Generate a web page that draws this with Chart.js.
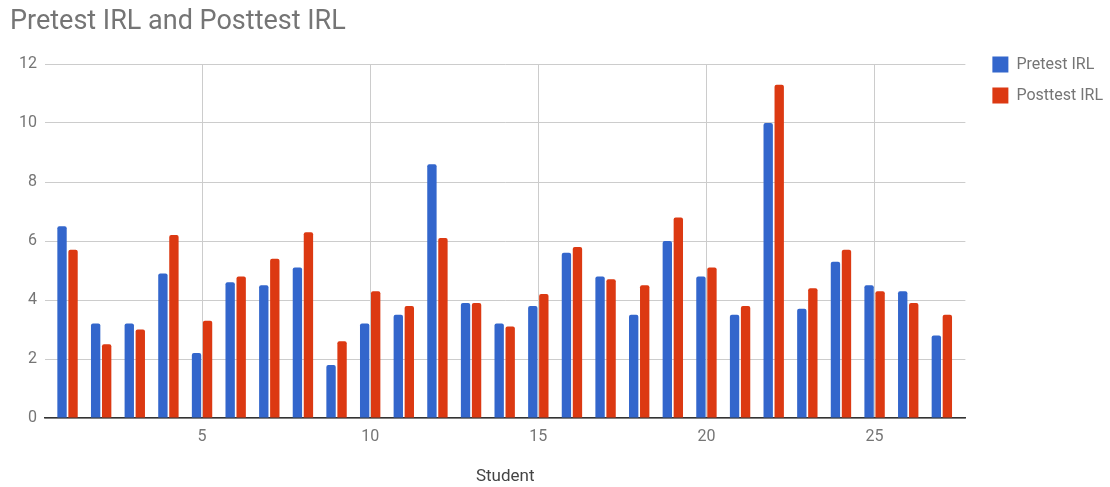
<!DOCTYPE html>
<html>
<head>
<meta charset="utf-8">
<title>Pretest IRL and Posttest IRL</title>
<script src="https://cdn.jsdelivr.net/npm/chart.js"></script>
<style>
  body { margin: 0; background: #fff; }
  #wrap { width: 1110px; height: 487px; }
</style>
</head>
<body>
<div id="wrap"><canvas id="myChart"></canvas></div>
<script>
const students = [1, 2, 3, 4, 5, 6, 7, 8, 9, 10, 11, 12, 13, 14, 15, 16, 17, 18, 19, 20, 21, 22, 23, 24, 25, 26, 27];
const pretest = [6.5, 3.2, 3.2, 4.9, 2.2, 4.6, 4.5, 5.1, 1.8, 3.2, 3.5, 8.6, 3.9, 3.2, 3.8, 5.6, 4.8, 3.5, 6.0, 4.8, 3.5, 10.0, 3.7, 5.3, 4.5, 4.3, 2.8];
const posttest = [5.7, 2.5, 3.0, 6.2, 3.3, 4.8, 5.4, 6.3, 2.6, 4.3, 3.8, 6.1, 3.9, 3.1, 4.2, 5.8, 4.7, 4.5, 6.8, 5.1, 3.8, 11.3, 4.4, 5.7, 4.3, 3.9, 3.5];
const yTicks = [0, 2, 4, 6, 8, 10, 12];
const xTicks = [5, 10, 15, 20, 25];

const font = 'Roboto';
const grey = '#757575';

const ctx = document.getElementById('myChart').getContext('2d');
const myChart = new Chart(ctx, {
    type: 'bar',
    data: {
        datasets: [{
            label: 'Pretest IRL',
            data: students.map((s, i) => ({ x: s, y: pretest[i] })),
            backgroundColor: '#3366cc',
            borderWidth: 0,
            borderRadius: 2,
            categoryPercentage: 0.655,
            barPercentage: 0.85
        }, {
            label: 'Posttest IRL',
            data: students.map((s, i) => ({ x: s, y: posttest[i] })),
            backgroundColor: '#dc3912',
            borderWidth: 0,
            borderRadius: 2,
            categoryPercentage: 0.655,
            barPercentage: 0.85
        }]
    },
    options: {
        responsive: true,
        maintainAspectRatio: false,
        animation: false,
        layout: { padding: { left: 10, right: -3, top: 0, bottom: 0 } },
        plugins: {
            title: {
                display: true,
                text: 'Pretest IRL and Posttest IRL',
                align: 'start',
                color: grey,
                font: { family: font, size: 27, weight: 'normal' },
                padding: { top: 6.5, bottom: 25.1 }
            },
            legend: {
                position: 'right',
                align: 'start',
                fullSize: true,
                // empty title only pushes the entries down to the plot top
                title: { display: true, text: '', font: { size: 10 }, padding: { top: 29.5, bottom: 0 } },
                labels: {
                    boxWidth: 16,
                    boxHeight: 16,
                    padding: 15,
                    color: grey,
                    font: { family: font, size: 16 }
                }
            },
            tooltip: { enabled: false }
        },
        scales: {
            x: {
                type: 'linear',
                min: 0.33,
                max: 27.7,
                offset: false,
                grid: { offset: false, color: '#cccccc', drawTicks: false },
                border: { display: true, color: '#333', width: 1.5 },
                afterBuildTicks: scale => { scale.ticks = xTicks.map(v => ({ value: v })); },
                ticks: {
                    padding: 9,
                    color: grey,
                    font: { family: font, size: 16 }
                },
                title: {
                    display: true,
                    text: 'Student',
                    color: '#444',
                    font: { family: font, size: 17 },
                    padding: { top: 11.4, bottom: 0 }
                }
            },
            y: {
                min: 0,
                max: 12,
                grid: { color: '#cccccc', drawTicks: false },
                border: { display: false },
                afterBuildTicks: scale => { scale.ticks = yTicks.map(v => ({ value: v })); },
                afterFit: scale => { scale.width = 35; },
                ticks: {
                    padding: 8,
                    color: grey,
                    font: { family: font, size: 16 }
                }
            },
            // empty spacer between the plot and the legend
            gap: {
                axis: 'y',
                position: 'right',
                grid: { display: false },
                border: { display: false },
                ticks: { display: false },
                afterFit: scale => { scale.width = 12; }
            }
        }
    }
});
</script>
</body>
</html>
